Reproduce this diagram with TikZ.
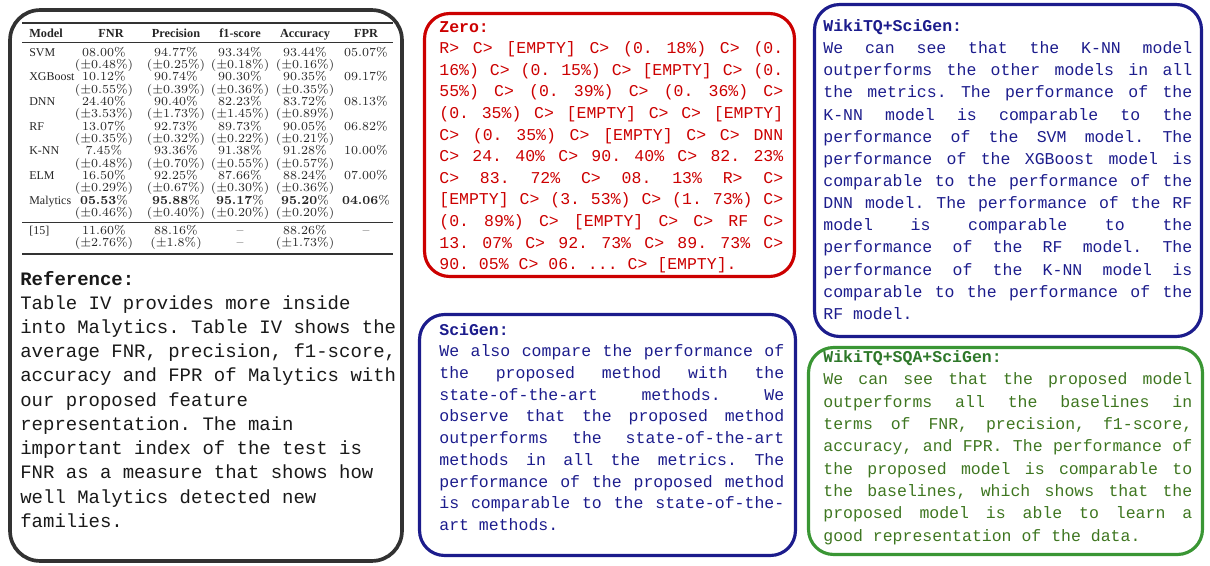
\documentclass[tikz,border=0pt]{standalone}
\usepackage{fontspec}
\setmonofont{Liberation Mono}
\newfontfamily\tabserif{Liberation Serif}
\usepackage{xcolor}

\definecolor{refgray}{RGB}{50,50,50}
\definecolor{zerored}{RGB}{204,0,0}
\definecolor{scinavy}{RGB}{28,28,140}
\definecolor{sqagreen}{RGB}{58,150,52}
\definecolor{sqatext}{RGB}{62,118,32}

% one justified line of a panel
\newcommand\jline[1]{{\spaceskip=\fontdimen2\font plus 1fil\makebox[\hsize][s]{#1}}}

\tikzset{
  panel/.style={draw=#1, line width=1.8pt, rounded corners=0.5cm},
  paneltext/.style={anchor=base west, inner sep=0pt, text=#1},
  monotext/.style={font=\ttfamily\fontsize{9.4}{#1}\selectfont\frenchspacing},
  headcell/.style={anchor=base, inner sep=0pt, text=black!85, font=\tabserif\bfseries\fontsize{7}{8}\selectfont},
  modelcell/.style={anchor=base west, inner sep=0pt, text=black!85, font=\tabserif\fontsize{6.8}{8}\selectfont},
  valcell/.style={anchor=base, inner sep=0pt, text=black!85, font=\fontsize{7}{8}\selectfont},
}

\begin{document}
\begin{tikzpicture}[x=0.02cm,y=-0.02cm]
\useasboundingbox (0,0) rectangle (1210,565);

% panels
\node[panel=refgray, line width=2.1pt, rounded corners=0.6cm, minimum width=7.84cm, minimum height=11.02cm] (refbox) at (206,285.5) {};
\node[panel=zerored, minimum width=7.4cm, minimum height=5.26cm] (zerobox) at (609.5,145) {};
\node[panel=scinavy, minimum width=7.52cm, minimum height=4.82cm] (scibox) at (607.5,435) {};
\node[panel=scinavy, minimum width=7.74cm, minimum height=6.64cm] (wikibox) at (1008,170.5) {};
\node[panel=sqagreen, minimum width=7.88cm, minimum height=4.14cm] (sqabox) at (1005.5,451) {};

% results table
\draw[line width=0.7pt, black!80] (22,23) -- (393,23);
\draw[line width=0.4pt, black!80] (22,42) -- (393,42);
\draw[line width=0.5pt, black!80] (22,222) -- (393,222);
\draw[line width=0.7pt, black!80] (22,254) -- (393,254);

\node[modelcell, font=\tabserif\bfseries\fontsize{7}{8}\selectfont] (hmodel) at (29,37) {Model};
\foreach \head/\hx [count=\c] in {FNR/111,Precision/176,f1-score/240,Accuracy/305,FPR/366} {
  \node[headcell] (head\c) at (\hx,37) {\head};
}

\def\colx{{104,176,240,305,366}}
\foreach \mname/\wt/\vals/\pms [count=\r from 0] in {
  SVM/\relax/{08.00,94.77,93.34,93.44,05.07}/{0.48,0.25,0.18,0.16},
  XGBoost/\relax/{10.12,90.74,90.30,90.35,09.17}/{0.55,0.39,0.36,0.35},
  DNN/\relax/{24.40,90.40,82.23,83.72,08.13}/{3.53,1.73,1.45,0.89},
  RF/\relax/{13.07,92.73,89.73,90.05,06.82}/{0.35,0.32,0.22,0.21},
  K-NN/\relax/{7.45,93.36,91.38,91.28,10.00}/{0.48,0.70,0.55,0.57},
  ELM/\relax/{16.50,92.25,87.66,88.24,07.00}/{0.29,0.67,0.30,0.36},
  Malytics/\textbf/{05.53,95.88,95.17,95.20,04.06}/{0.46,0.40,0.20,0.20}} {
  \pgfmathsetmacro\ry{56+24.67*\r}
  \node[modelcell] (mod\r) at (29,\ry) {\mname};
  \foreach \v [count=\c] in \vals {
    \pgfmathsetmacro\cx{\colx[\c-1]}
    \node[valcell] (val\r-\c) at (\cx,\ry) {\wt{\v}\%};
  }
  \foreach \p [count=\c] in \pms {
    \pgfmathsetmacro\cx{\colx[\c-1]}
    \node[valcell] (pm\r-\c) at (\cx,\ry+12.4) {($\pm$\p\%)};
  }
}

\node[modelcell] (mod7) at (29,234) {[15]};
\foreach \v/\p [count=\c] in {11.60\%/($\pm$2.76\%),88.16\%/($\pm$1.8\%),--/--,88.26\%/($\pm$1.73\%),--/{}} {
  \pgfmathsetmacro\cx{\colx[\c-1]}
  \node[valcell] (val7-\c) at (\cx,234) {\v};
  \node[valcell] (pm7-\c) at (\cx,246.4) {\p};
}

% texts
\node[paneltext=black!90, font=\ttfamily\fontsize{10.8}{13.8}\selectfont\frenchspacing] (reftext) at (20,285) {\parbox[t]{7.6cm}{%
\textbf{Reference:}\\
Table IV provides more inside\\
into Malytics. Table IV shows the\\
average FNR, precision, f1-score,\\
accuracy and FPR of Malytics with\\
our proposed feature\\
representation. The main\\
important index of the test is\\
FNR as a measure that shows how\\
well Malytics detected new\\
families.}};

\node[paneltext=zerored, monotext=12.3] (zerotext) at (439,32) {\parbox[t]{6.88cm}{%
\textbf{Zero:}\\
\jline{R> C> [EMPTY] C> (0. 18\%) C> (0.}\\
\jline{16\%) C> (0. 15\%) C> [EMPTY] C> (0.}\\
\jline{55\%) C> (0. 39\%) C> (0. 36\%) C>}\\
\jline{(0. 35\%) C> [EMPTY] C> C> [EMPTY]}\\
\jline{C> (0. 35\%) C> [EMPTY] C> C> DNN}\\
\jline{C> 24. 40\% C> 90. 40\% C> 82. 23\%}\\
\jline{C> 83. 72\% C> 08. 13\% R> C>}\\
\jline{[EMPTY] C> (3. 53\%) C> (1. 73\%) C>}\\
\jline{(0. 89\%) C> [EMPTY] C> C> RF C>}\\
\jline{13. 07\% C> 92. 73\% C> 89. 73\% C>}\\
90. 05\% C> 06. ... C> [EMPTY].}};

\node[paneltext=scinavy, monotext=12.37] (scitext) at (439,335) {\parbox[t]{6.9cm}{%
\textbf{SciGen:}\\
\jline{We also compare the performance of}\\
\jline{the proposed method with the}\\
\jline{state-of-the-art methods. We}\\
\jline{observe that the proposed method}\\
\jline{outperforms the state-of-the-art}\\
\jline{methods in all the metrics. The}\\
\jline{performance of the proposed method}\\
\jline{is comparable to the state-of-the-}\\
art methods.}};

\node[paneltext=scinavy, monotext=12.6] (wikitext) at (823,31.5) {\parbox[t]{7.38cm}{%
\textbf{WikiTQ+SciGen:}\\
\jline{We can see that the K-NN model}\\
\jline{outperforms the other models in all}\\
\jline{the metrics. The performance of the}\\
\jline{K-NN model is comparable to the}\\
\jline{performance of the SVM model. The}\\
\jline{performance of the XGBoost model is}\\
\jline{comparable to the performance of the}\\
\jline{DNN model. The performance of the RF}\\
\jline{model is comparable to the}\\
\jline{performance of the RF model. The}\\
\jline{performance of the K-NN model is}\\
\jline{comparable to the performance of the}\\
RF model.}};

\node[paneltext=sqatext, monotext=12.7] (sqatext) at (823,362.5) {\parbox[t]{7.38cm}{%
\textcolor{sqagreen!80!black}{\textbf{WikiTQ+SQA+SciGen:}}\\
\jline{We can see that the proposed model}\\
\jline{outperforms all the baselines in}\\
\jline{terms of FNR, precision, f1-score,}\\
\jline{accuracy, and FPR. The performance of}\\
\jline{the proposed model is comparable to}\\
\jline{the baselines, which shows that the}\\
\jline{proposed model is able to learn a}\\
good representation of the data.}};
\end{tikzpicture}
\end{document}
